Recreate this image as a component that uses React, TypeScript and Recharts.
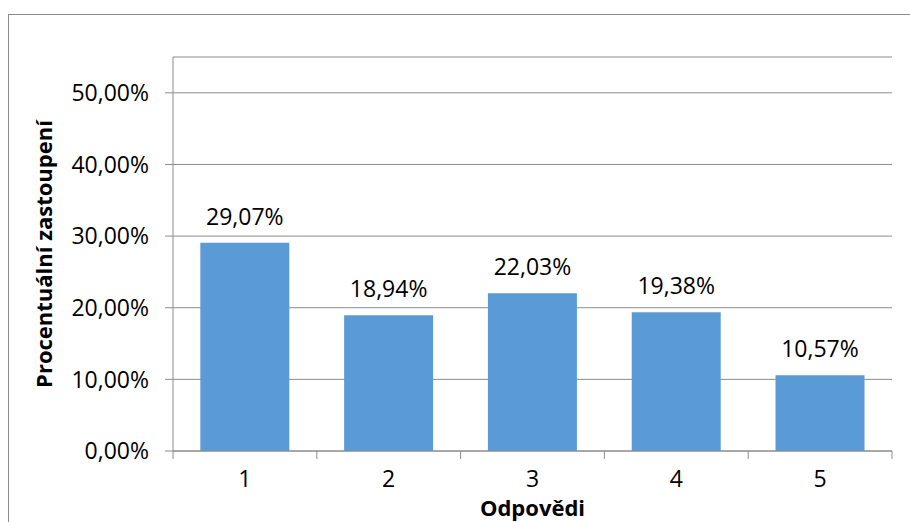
import { BarChart, Bar, XAxis, YAxis, CartesianGrid, LabelList, Label } from 'recharts';

const answers = ['1', '2', '3', '4', '5'];
const shares = [29.07, 18.94, 22.03, 19.38, 10.57];
const yTicks = [0, 10, 20, 30, 40, 50];

const data = answers.map((answer, i) => ({ answer, share: shares[i] }));

const FONT = '"Open Sans", sans-serif';
const LINE = '#8c8c8c';

const formatPct = (v: number) => `${v.toFixed(2).replace('.', ',')}%`;

// category label centred, tick marks at the category boundaries
// eslint-disable-next-line @typescript-eslint/no-explicit-any
const BoundaryTick = ({ x, y, payload, index }: any) => {
  const half = payload.offset ?? 0;
  return (
    <g>
      <line x1={x - half} x2={x - half} y1={y - 8} y2={y} stroke={LINE} />
      {index === answers.length - 1 && (
        <line x1={x + half} x2={x + half} y1={y - 8} y2={y} stroke={LINE} />
      )}
      <text
        x={x}
        y={y + 28}
        textAnchor="middle"
        fontFamily={FONT}
        fontSize={23}
        fill="#000"
      >
        {payload.value}
      </text>
    </g>
  );
};

export default function App() {
  return (
    <div
      style={{
        position: 'fixed',
        left: 8,
        top: 14,
        width: 902,
        height: 508,
        borderTop: '1px solid #8c8c8c',
        borderLeft: '1px solid #8c8c8c',
        background: '#fff',
        boxSizing: 'border-box',
      }}
    >
      <BarChart
        width={901}
        height={507}
        data={data}
        margin={{ top: 42, right: 18, bottom: 0, left: 0 }}
        barCategoryGap="19%"
      >
        <CartesianGrid vertical={false} stroke={LINE} />
        <XAxis
          dataKey="answer"
          height={71}
          tickSize={8}
          tickMargin={0}
          tickLine={false}
          stroke={LINE}
          tick={<BoundaryTick />}
          interval={0}
        >
          <Label
            value="Odpovědi"
            position="insideBottom"
            offset={6}
            style={{ fontFamily: FONT, fontSize: 22, fontWeight: 700, fill: '#000' }}
          />
        </XAxis>
        <YAxis
          width={164}
          domain={[0, 55]}
          ticks={yTicks}
          tickFormatter={formatPct}
          tickSize={8}
          tickMargin={16}
          stroke={LINE}
          tick={{ fontFamily: FONT, fontSize: 23, fill: '#000' }}
        >
          <Label
            value="Procentuální zastoupení"
            angle={-90}
            position="insideLeft"
            offset={35}
            style={{ fontFamily: FONT, fontSize: 22, fontWeight: 700, fill: '#000', textAnchor: 'middle' }}
          />
        </YAxis>
        <Bar dataKey="share" fill="#5B9BD5" isAnimationActive={false}>
          <LabelList
            dataKey="share"
            position="top"
            offset={18}
            formatter={(v: number) => formatPct(v)}
            style={{ fontFamily: FONT, fontSize: 23, fill: '#000' }}
          />
        </Bar>
      </BarChart>
    </div>
  );
}
